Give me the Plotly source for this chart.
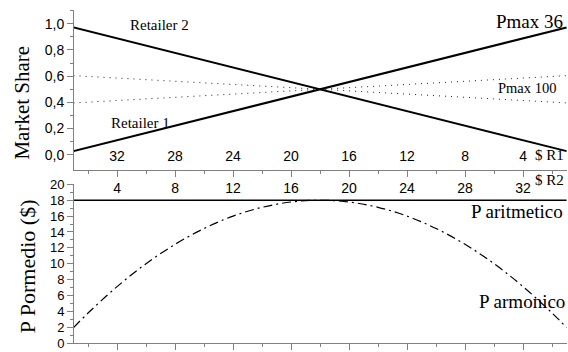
import plotly.graph_objects as go

# ---- data ----
price_r2 = [1, 35]                       # x axis: price of retailer 2 ($)
share_r2_pmax36 = [0.972, 0.028]         # Retailer 2 market share, Pmax 36
share_r1_pmax36 = [0.028, 0.972]         # Retailer 1 market share, Pmax 36
share_r2_pmax100 = [0.604, 0.396]        # Retailer 2 market share, Pmax 100
share_r1_pmax100 = [0.396, 0.604]        # Retailer 1 market share, Pmax 100

price_curve = [1, 2, 4, 6, 8, 10, 12, 14, 16, 18, 20, 22, 24, 26, 28, 30, 32, 34, 35]
p_armonico = [1.94, 3.78, 7.11, 10.0, 12.44, 14.44, 16.0, 17.11, 17.78, 18.0,
              17.78, 17.11, 16.0, 14.44, 12.44, 10.0, 7.11, 3.78, 1.94]
p_aritmetico_x = [1, 35]
p_aritmetico = [18, 18]

r2_tick_vals = [4, 8, 12, 16, 20, 24, 28, 32]
r2_tick_text = ["4", "8", "12", "16", "20", "24", "28", "32"]
r1_tick_text = ["32", "28", "24", "20", "16", "12", "8", "4"]
minor_x_vals = [2, 6, 10, 14, 18, 22, 26, 30, 34]

share_ticks = [0, 0.2, 0.4, 0.6, 0.8, 1.0]
share_minor = [0.1, 0.3, 0.5, 0.7, 0.9, 1.1]
price_ticks = [0, 2, 4, 6, 8, 10, 12, 14, 16, 18, 20]
price_minor = [1, 3, 5, 7, 9, 11, 13, 15, 17, 19]

# ---- figure ----
AX = "#808080"
SANS = "Liberation Sans, Arial, sans-serif"
SERIF = "Liberation Serif, Times New Roman, serif"
XR = [1.03, 35.03]

fig = go.Figure()
fig.add_trace(go.Scatter(x=price_r2, y=share_r2_pmax36, mode="lines",
                         line=dict(color="black", width=2), xaxis="x", yaxis="y"))
fig.add_trace(go.Scatter(x=price_r2, y=share_r1_pmax36, mode="lines",
                         line=dict(color="black", width=2), xaxis="x", yaxis="y"))
fig.add_trace(go.Scatter(x=price_r2, y=share_r2_pmax100, mode="lines",
                         line=dict(color="#222", width=1, dash="1px,5px"), xaxis="x", yaxis="y"))
fig.add_trace(go.Scatter(x=price_r2, y=share_r1_pmax100, mode="lines",
                         line=dict(color="#222", width=1, dash="1px,5px"), xaxis="x", yaxis="y"))
# invisible carrier trace so the R1 price axis (x3) is drawn
fig.add_trace(go.Scatter(x=price_r2, y=share_r1_pmax36, mode="lines", opacity=0,
                         hoverinfo="skip", line=dict(width=0), xaxis="x3", yaxis="y"))
fig.add_trace(go.Scatter(x=p_aritmetico_x, y=p_aritmetico, mode="lines",
                         line=dict(color="black", width=1.5), xaxis="x2", yaxis="y2"))
fig.add_trace(go.Scatter(x=price_curve, y=p_armonico, mode="lines", line_shape="spline",
                         line=dict(color="black", width=1.2, dash="9px,4px,2px,4px"),
                         xaxis="x2", yaxis="y2"))

common_x = dict(range=XR, showgrid=False, zeroline=False, showline=True, linecolor=AX,
                linewidth=1, ticks="outside", tickcolor=AX, ticklen=6, tickwidth=1,
                tickmode="array", tickvals=r2_tick_vals,
                minor=dict(tickvals=minor_x_vals, ticks="outside", ticklen=3, tickcolor=AX))

fig.update_layout(
    width=568, height=352,
    margin=dict(l=74, r=1, t=10, b=4),
    paper_bgcolor="white", plot_bgcolor="white",
    showlegend=False,
    separators=",.",
    xaxis=dict(**common_x, anchor="y", ticktext=r2_tick_text,
               tickfont=dict(family=SANS, size=14, color="black")),
    xaxis3=dict(range=XR, overlaying="x", anchor="free", position=0.592, side="bottom",
                showgrid=False, zeroline=False, showline=False, ticks="",
                tickmode="array", tickvals=r2_tick_vals, ticktext=r1_tick_text,
                tickfont=dict(family=SANS, size=14, color="black")),
    yaxis=dict(domain=[0.5207, 1.0], range=[-0.113, 1.105], showgrid=False, zeroline=False,
               showline=True, linecolor=AX, ticks="outside", tickcolor=AX, ticklen=6,
               tickmode="array", tickvals=share_ticks, tickformat=".1f",
               minor=dict(tickvals=share_minor, ticks="outside", ticklen=3, tickcolor=AX),
               tickfont=dict(family=SANS, size=14, color="black")),
    xaxis2=dict(**common_x, anchor="y2", showticklabels=False),
    yaxis2=dict(domain=[0, 0.4763], range=[0, 20], showgrid=False, zeroline=False,
                showline=True, linecolor=AX, ticks="outside", tickcolor=AX, ticklen=6,
                tickmode="array", tickvals=price_ticks, ticklabeloverflow="allow",
                minor=dict(tickvals=price_minor, ticks="outside", ticklen=3, tickcolor=AX),
                tickfont=dict(family=SANS, size=13, color="black")),
)

def note(text, x, y, size, xanchor="center", angle=0):
    fig.add_annotation(text=text, x=x, y=y, xref="paper", yref="paper", showarrow=False,
                       xanchor=xanchor, yanchor="middle", textangle=angle,
                       font=dict(family=SERIF, size=size, color="black"))

note("Retailer 2", 0.1744, 0.9556, 15)
note("Retailer 1", 0.1339, 0.6598, 15)
note("Pmax 36", 0.9959, 0.9645, 19, xanchor="right")
note("Pmax 100", 0.9189, 0.7663, 14.5)
note("$ R1", 0.931, 0.5651, 15, xanchor="left")
note("$ R2", 0.931, 0.4882, 15, xanchor="left")
note("P aritmetico", 0.9959, 0.3935, 19, xanchor="right")
note("P armonico", 1.0, 0.1243, 19, xanchor="right")
note("Market Share", -0.1055, 0.7219, 21, angle=-90)
note("P Pormedio ($)", -0.0953, 0.2308, 22, angle=-90)

fig.write_html("out.html", config={"displayModeBar": False},
               post_script="document.body.style.margin='0';document.body.style.overflow='hidden';")
